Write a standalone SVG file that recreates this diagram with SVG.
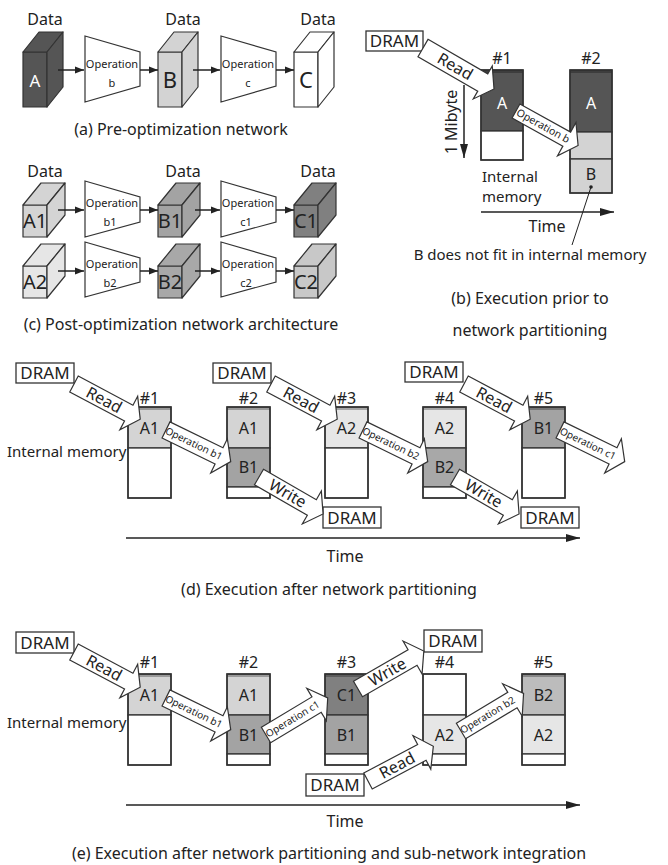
<svg xmlns="http://www.w3.org/2000/svg" width="668" height="865" viewBox="0 0 668 865">
<style>
.t{font-family:"Noto Sans","DejaVu Sans",sans-serif;fill:#222}
.m{text-anchor:middle}
.cube{stroke:#333;stroke-width:1.2;stroke-linejoin:round}
.trap{fill:#fff;stroke:#333;stroke-width:1.2}
.box{fill:#fff;stroke:#333;stroke-width:1.3}
.seg{stroke:#333;stroke-width:1.3}
.bar{fill:none;stroke:#333;stroke-width:1.5}
.band{fill:#000;opacity:.28}
.ln{stroke:#222;stroke-width:1.5;fill:none}
.ba{fill:#fff;stroke:#333;stroke-width:1.2;stroke-linejoin:miter}
.d1{fill:#555}.l1{fill:#d3d3d3}.w{fill:#fff}
.a1{fill:#d4d4d4}.b1{fill:#a3a3a3}.c1{fill:#808080}.a2{fill:#e6e6e6}.b2{fill:#a8a8a8}.c2{fill:#c8c8c8}.b2e{fill:#bcbcbc}
</style>
<defs>
<marker id="ah" viewBox="0 0 10 10" refX="10" refY="5" markerWidth="9" markerHeight="9" markerUnits="userSpaceOnUse" orient="auto"><path d="M0,1 L10,5 L0,9 Z" fill="#222"/></marker>
<marker id="th" viewBox="0 0 14 8" refX="14" refY="4" markerWidth="14" markerHeight="8" markerUnits="userSpaceOnUse" orient="auto"><path d="M0,0 L14,4 L0,8 Z" fill="#222"/></marker>
</defs>

<!-- (a) -->
<g id="labels-a">
<text x="45" y="25" class="t m" font-size="16">Data</text>
<text x="183" y="25" class="t m" font-size="16">Data</text>
<text x="318" y="25" class="t m" font-size="16">Data</text>
</g>
<g id="cubeA">
<rect x="23" y="52" width="24" height="55" class="cube d1"/>
<polygon points="23,52 39,32 63,32 47,52" class="cube d1"/>
<polygon points="47,52 63,32 63,87 47,107" class="cube d1"/>
<text x="35" y="87" class="t m" font-size="17" style="fill:#fff">A</text>
</g>
<g id="opB">
<polygon points="85,36 140,52 140,86 85,102" class="trap"/>
<text x="112" y="68" class="t m" font-size="11">Operation</text>
<text x="112" y="87" class="t m" font-size="11">b</text>
</g>
<g id="cubeB">
<rect x="158" y="52" width="24" height="55" class="cube l1"/>
<polygon points="158,52 174,32 198,32 182,52" class="cube l1"/>
<polygon points="182,52 198,32 198,87 182,107" class="cube l1"/>
<text x="170" y="88" class="t m" font-size="22">B</text>
</g>
<g id="opC">
<polygon points="221,36 276,52 276,86 221,102" class="trap"/>
<text x="248" y="68" class="t m" font-size="11">Operation</text>
<text x="248" y="87" class="t m" font-size="11">c</text>
</g>
<g id="cubeC">
<rect x="294" y="52" width="24" height="55" class="cube w"/>
<polygon points="294,52 310,32 334,32 318,52" class="cube w"/>
<polygon points="318,52 334,32 334,87 318,107" class="cube w"/>
<text x="306" y="88" class="t m" font-size="22">C</text>
</g>
<text x="181" y="135" class="t m" font-size="16">(a) Pre-optimization network</text>

<!-- (c) -->
<g id="labels-c">
<text x="45" y="177" class="t m" font-size="16">Data</text>
<text x="183" y="177" class="t m" font-size="16">Data</text>
<text x="318" y="177" class="t m" font-size="16">Data</text>
</g>
<g id="cubeA1">
<rect x="23" y="205" width="24" height="32" class="cube a1"/>
<polygon points="23,205 41,183 65,183 47,205" class="cube a1"/>
<polygon points="47,205 65,183 65,215 47,237" class="cube a1"/>
<text x="35" y="228" class="t m" font-size="20">A1</text>
</g>
<g id="opB1">
<polygon points="85,181 140,197 140,222 85,237" class="trap"/>
<text x="112" y="207" class="t m" font-size="11">Operation</text>
<text x="110" y="226" class="t m" font-size="11">b1</text>
</g>
<g id="cubeB1">
<rect x="158" y="205" width="24" height="32" class="cube b1"/>
<polygon points="158,205 176,183 200,183 182,205" class="cube b1"/>
<polygon points="182,205 200,183 200,215 182,237" class="cube b1"/>
<text x="170" y="228" class="t m" font-size="20">B1</text>
</g>
<g id="opC1">
<polygon points="221,181 276,197 276,222 221,237" class="trap"/>
<text x="248" y="207" class="t m" font-size="11">Operation</text>
<text x="246" y="226" class="t m" font-size="11">c1</text>
</g>
<g id="cubeC1">
<rect x="294" y="205" width="24" height="32" class="cube c1"/>
<polygon points="294,205 312,183 336,183 318,205" class="cube c1"/>
<polygon points="318,205 336,183 336,215 318,237" class="cube c1"/>
<text x="306" y="228" class="t m" font-size="20">C1</text>
</g>
<g id="cubeA2">
<rect x="23" y="266" width="24" height="32" class="cube a2"/>
<polygon points="23,266 41,244 65,244 47,266" class="cube a2"/>
<polygon points="47,266 65,244 65,276 47,298" class="cube a2"/>
<text x="35" y="289" class="t m" font-size="20">A2</text>
</g>
<g id="opB2">
<polygon points="85,242 140,258 140,282 85,297" class="trap"/>
<text x="112" y="268" class="t m" font-size="11">Operation</text>
<text x="110" y="287" class="t m" font-size="11">b2</text>
</g>
<g id="cubeB2">
<rect x="158" y="266" width="24" height="32" class="cube b2"/>
<polygon points="158,266 176,244 200,244 182,266" class="cube b2"/>
<polygon points="182,266 200,244 200,276 182,298" class="cube b2"/>
<text x="170" y="289" class="t m" font-size="20">B2</text>
</g>
<g id="opC2">
<polygon points="221,242 276,258 276,282 221,297" class="trap"/>
<text x="248" y="268" class="t m" font-size="11">Operation</text>
<text x="246" y="287" class="t m" font-size="11">c2</text>
</g>
<g id="cubeC2">
<rect x="294" y="266" width="24" height="32" class="cube c2"/>
<polygon points="294,266 312,244 336,244 318,266" class="cube c2"/>
<polygon points="318,266 336,244 336,276 318,298" class="cube c2"/>
<text x="306" y="289" class="t m" font-size="20">C2</text>
</g>
<text x="181" y="330" class="t m" font-size="16">(c) Post-optimization network architecture</text>

<!-- (b) -->
<g id="b-dram">
<rect x="366" y="31" width="57" height="20" class="box"/>
<text x="394.5" y="47" class="t m" font-size="17">DRAM</text>
</g>
<g id="b-mem1">
<rect x="481" y="70" width="42" height="61" class="seg d1"/>
<rect x="481" y="131" width="42" height="29" class="seg w"/>
<rect x="481" y="70" width="42" height="3" class="band"/>
<rect x="481" y="70" width="42" height="90" class="bar"/>
<text x="502" y="64" class="t m" font-size="16">#1</text>
<text x="502" y="109" class="t m" font-size="16" style="fill:#fff">A</text>
</g>
<g id="b-mem2">
<rect x="570" y="70" width="42" height="62" class="seg d1"/>
<rect x="570" y="132" width="42" height="27" class="seg l1"/>
<rect x="570" y="159" width="42" height="34" class="seg l1"/>
<rect x="570" y="70" width="42" height="3" class="band"/>
<rect x="570" y="70" width="42" height="123" class="bar"/>
<text x="591" y="64" class="t m" font-size="16">#2</text>
<text x="591" y="109" class="t m" font-size="16" style="fill:#fff">A</text>
<text x="591" y="180" class="t m" font-size="16">B</text>
</g>
<text transform="translate(457,122) rotate(-90)" class="t m" font-size="16">1 Mibyte</text>
<text x="482" y="182" class="t" font-size="15">Internal</text>
<text x="482" y="202" class="t" font-size="15">memory</text>
<text x="547" y="232" class="t m" font-size="16">Time</text>
<text x="530" y="260" class="t m" font-size="15">B does not fit in internal memory</text>
<text x="530" y="304" class="t m" font-size="16">(b) Execution prior to</text>
<text x="530" y="336" class="t m" font-size="16">network partitioning</text>

<!-- (d) -->
<g id="d-dram1"><rect x="16" y="363" width="58" height="20" class="box"/><text x="45" y="379" class="t m" font-size="17">DRAM</text></g>
<g id="d-dram2"><rect x="213" y="363" width="58" height="20" class="box"/><text x="242" y="379" class="t m" font-size="17">DRAM</text></g>
<g id="d-dram3"><rect x="405" y="362" width="58" height="20" class="box"/><text x="434" y="378" class="t m" font-size="17">DRAM</text></g>
<g id="d-dram4"><rect x="323" y="507" width="58" height="21" class="box"/><text x="352" y="523.5" class="t m" font-size="17">DRAM</text></g>
<g id="d-dram5"><rect x="521" y="507" width="58" height="21" class="box"/><text x="550" y="523.5" class="t m" font-size="17">DRAM</text></g>
<text x="7" y="457" class="t" font-size="15">Internal memory</text>
<g id="d-mem1">
<rect x="128" y="407" width="43" height="41" class="seg a1"/>
<rect x="128" y="448" width="43" height="50" class="seg w"/>
<rect x="128" y="407" width="43" height="3" class="band"/>
<rect x="128" y="407" width="43" height="91" class="bar"/>
<text x="149.5" y="404" class="t m" font-size="16">#1</text>
<text x="149.5" y="434" class="t m" font-size="16">A1</text>
</g>
<g id="d-mem2">
<rect x="227" y="407" width="43" height="41" class="seg a1"/>
<rect x="227" y="448" width="43" height="39" class="seg b1"/>
<rect x="227" y="487" width="43" height="11" class="seg w"/>
<rect x="227" y="407" width="43" height="3" class="band"/>
<rect x="227" y="407" width="43" height="91" class="bar"/>
<text x="248.5" y="404" class="t m" font-size="16">#2</text>
<text x="248.5" y="434" class="t m" font-size="16">A1</text>
<text x="248.5" y="473" class="t m" font-size="16">B1</text>
</g>
<g id="d-mem3">
<rect x="325" y="407" width="43" height="41" class="seg a2"/>
<rect x="325" y="448" width="43" height="50" class="seg w"/>
<rect x="325" y="407" width="43" height="3" class="band"/>
<rect x="325" y="407" width="43" height="91" class="bar"/>
<text x="346.5" y="404" class="t m" font-size="16">#3</text>
<text x="346.5" y="434" class="t m" font-size="16">A2</text>
</g>
<g id="d-mem4">
<rect x="423" y="407" width="43" height="41" class="seg a2"/>
<rect x="423" y="448" width="43" height="39" class="seg b2"/>
<rect x="423" y="487" width="43" height="11" class="seg w"/>
<rect x="423" y="407" width="43" height="3" class="band"/>
<rect x="423" y="407" width="43" height="91" class="bar"/>
<text x="444.5" y="404" class="t m" font-size="16">#4</text>
<text x="444.5" y="434" class="t m" font-size="16">A2</text>
<text x="444.5" y="473" class="t m" font-size="16">B2</text>
</g>
<g id="d-mem5">
<rect x="522" y="407" width="43" height="41" class="seg b1"/>
<rect x="522" y="448" width="43" height="50" class="seg w"/>
<rect x="522" y="407" width="43" height="3" class="band"/>
<rect x="522" y="407" width="43" height="91" class="bar"/>
<text x="543.5" y="404" class="t m" font-size="16">#5</text>
<text x="543.5" y="434" class="t m" font-size="16">B1</text>
</g>
<text x="345" y="562" class="t m" font-size="16">Time</text>
<text x="329" y="595" class="t m" font-size="16">(d) Execution after network partitioning</text>

<!-- (e) -->
<g id="e-dram1"><rect x="16" y="632" width="58" height="21" class="box"/><text x="45" y="648.5" class="t m" font-size="17">DRAM</text></g>
<g id="e-dram2"><rect x="424" y="630" width="58" height="22" class="box"/><text x="453" y="647" class="t m" font-size="17">DRAM</text></g>
<g id="e-dram3"><rect x="306" y="774" width="58" height="22" class="box"/><text x="335" y="791" class="t m" font-size="17">DRAM</text></g>
<text x="7" y="728" class="t" font-size="15">Internal memory</text>
<g id="e-mem1">
<rect x="128" y="674" width="43" height="41" class="seg a1"/>
<rect x="128" y="715" width="43" height="50" class="seg w"/>
<rect x="128" y="674" width="43" height="3" class="band"/>
<rect x="128" y="674" width="43" height="91" class="bar"/>
<text x="149.5" y="668" class="t m" font-size="16">#1</text>
<text x="149.5" y="701" class="t m" font-size="16">A1</text>
</g>
<g id="e-mem2">
<rect x="227" y="674" width="43" height="41" class="seg a1"/>
<rect x="227" y="715" width="43" height="39" class="seg b1"/>
<rect x="227" y="754" width="43" height="11" class="seg w"/>
<rect x="227" y="674" width="43" height="3" class="band"/>
<rect x="227" y="674" width="43" height="91" class="bar"/>
<text x="248.5" y="668" class="t m" font-size="16">#2</text>
<text x="248.5" y="701" class="t m" font-size="16">A1</text>
<text x="248.5" y="741" class="t m" font-size="16">B1</text>
</g>
<g id="e-mem3">
<rect x="325" y="674" width="43" height="41" class="seg c1"/>
<rect x="325" y="715" width="43" height="39" class="seg b1"/>
<rect x="325" y="754" width="43" height="11" class="seg w"/>
<rect x="325" y="674" width="43" height="3" class="band"/>
<rect x="325" y="674" width="43" height="91" class="bar"/>
<text x="346.5" y="668" class="t m" font-size="16">#3</text>
<text x="346.5" y="701" class="t m" font-size="16">C1</text>
<text x="346.5" y="741" class="t m" font-size="16">B1</text>
</g>
<g id="e-mem4">
<rect x="423" y="674" width="43" height="41" class="seg w"/>
<rect x="423" y="715" width="43" height="39" class="seg a2"/>
<rect x="423" y="754" width="43" height="11" class="seg w"/>
<rect x="423" y="674" width="43" height="91" class="bar"/>
<text x="444.5" y="668" class="t m" font-size="16">#4</text>
<text x="444.5" y="741" class="t m" font-size="16">A2</text>
</g>
<g id="e-mem5">
<rect x="522" y="674" width="43" height="41" class="seg b2e"/>
<rect x="522" y="715" width="43" height="39" class="seg a2"/>
<rect x="522" y="754" width="43" height="11" class="seg w"/>
<rect x="522" y="674" width="43" height="3" class="band"/>
<rect x="522" y="674" width="43" height="91" class="bar"/>
<text x="543.5" y="668" class="t m" font-size="16">#5</text>
<text x="543.5" y="701" class="t m" font-size="16">B2</text>
<text x="543.5" y="741" class="t m" font-size="16">A2</text>
</g>
<text x="345" y="827" class="t m" font-size="16">Time</text>
<text x="329" y="859" class="t m" font-size="16">(e) Execution after network partitioning and sub-network integration</text>

<!-- connectors -->
<g id="connectors">
<line x1="58" y1="70" x2="84" y2="70" class="ln" marker-end="url(#ah)"/>
<line x1="140" y1="70" x2="158" y2="70" class="ln" marker-end="url(#ah)"/>
<line x1="193" y1="70" x2="220" y2="70" class="ln" marker-end="url(#ah)"/>
<line x1="276" y1="70" x2="294" y2="70" class="ln" marker-end="url(#ah)"/>
<line x1="58" y1="210" x2="84" y2="210" class="ln" marker-end="url(#ah)"/>
<line x1="140" y1="210" x2="158" y2="210" class="ln" marker-end="url(#ah)"/>
<line x1="195" y1="210" x2="220" y2="210" class="ln" marker-end="url(#ah)"/>
<line x1="276" y1="210" x2="294" y2="210" class="ln" marker-end="url(#ah)"/>
<line x1="58" y1="271" x2="84" y2="271" class="ln" marker-end="url(#ah)"/>
<line x1="140" y1="271" x2="158" y2="271" class="ln" marker-end="url(#ah)"/>
<line x1="195" y1="271" x2="220" y2="271" class="ln" marker-end="url(#ah)"/>
<line x1="276" y1="271" x2="294" y2="271" class="ln" marker-end="url(#ah)"/>

<line x1="464" y1="85" x2="464" y2="158" class="ln" marker-end="url(#th)"/>
<line x1="481" y1="212" x2="614" y2="212" class="ln" marker-end="url(#th)"/>
<line x1="591" y1="187" x2="572" y2="245" stroke="#222" stroke-width="1"/>
<circle cx="591" cy="187" r="1.8" fill="#222"/>
<line x1="126" y1="538" x2="580" y2="538" class="ln" marker-end="url(#th)"/>
<line x1="126" y1="805" x2="580" y2="805" class="ln" marker-end="url(#th)"/>

<!-- (b) block arrows -->
<g transform="translate(423,48) rotate(30)"><path d="M0,-10 H69 V-19 L82,0 L69,19 V10 H0 Z" class="ba"/><text x="37" y="5.5" class="t m" font-size="16">Read</text></g>
<g transform="translate(516,111) rotate(29)"><path d="M0,-8 H58 V-19 L71,0 L58,19 V8 H0 Z" class="ba"/><text x="31" y="3.5" class="t m" font-size="10.5">Operation b</text></g>

<!-- (d) block arrows -->
<g transform="translate(74,384) rotate(28)"><path d="M0,-9 H62 V-19 L75,0 L62,19 V9 H0 Z" class="ba"/><text x="34" y="5.5" class="t m" font-size="16">Read</text></g>
<g transform="translate(166,430) rotate(26)"><path d="M0,-9 H59 V-19 L72,0 L59,19 V9 H0 Z" class="ba"/><text x="31" y="3.5" class="t m" font-size="10">Operation b1</text></g>
<g transform="translate(259,477) rotate(30)"><path d="M0,-9 H61 V-19 L74,0 L61,19 V9 H0 Z" class="ba"/><text x="33" y="5.5" class="t m" font-size="16">Write</text></g>
<g transform="translate(271,384) rotate(28)"><path d="M0,-9 H62 V-19 L75,0 L62,19 V9 H0 Z" class="ba"/><text x="34" y="5.5" class="t m" font-size="16">Read</text></g>
<g transform="translate(363,430) rotate(26)"><path d="M0,-9 H59 V-19 L72,0 L59,19 V9 H0 Z" class="ba"/><text x="31" y="3.5" class="t m" font-size="10">Operation b2</text></g>
<g transform="translate(455,477) rotate(30)"><path d="M0,-9 H61 V-19 L74,0 L61,19 V9 H0 Z" class="ba"/><text x="33" y="5.5" class="t m" font-size="16">Write</text></g>
<g transform="translate(464,384) rotate(28)"><path d="M0,-9 H62 V-19 L75,0 L62,19 V9 H0 Z" class="ba"/><text x="34" y="5.5" class="t m" font-size="16">Read</text></g>
<g transform="translate(560,430) rotate(26)"><path d="M0,-9 H59 V-19 L72,0 L59,19 V9 H0 Z" class="ba"/><text x="31" y="3.5" class="t m" font-size="10">Operation c1</text></g>

<!-- (e) block arrows -->
<g transform="translate(74,652) rotate(28)"><path d="M0,-9 H62 V-19 L75,0 L62,19 V9 H0 Z" class="ba"/><text x="34" y="5.5" class="t m" font-size="16">Read</text></g>
<g transform="translate(166,698) rotate(26)"><path d="M0,-9 H59 V-19 L72,0 L59,19 V9 H0 Z" class="ba"/><text x="31" y="3.5" class="t m" font-size="10">Operation b1</text></g>
<g transform="translate(266,735) rotate(-31)"><path d="M0,-9 H59 V-19 L72,0 L59,19 V9 H0 Z" class="ba"/><text x="31" y="3.5" class="t m" font-size="10">Operation c1</text></g>
<g transform="translate(358,689) rotate(-30)"><path d="M0,-9 H63 V-19 L76,0 L63,19 V9 H0 Z" class="ba"/><text x="34" y="5.5" class="t m" font-size="16">Write</text></g>
<g transform="translate(368,781) rotate(-28)"><path d="M0,-9 H61 V-19 L74,0 L61,19 V9 H0 Z" class="ba"/><text x="33" y="5.5" class="t m" font-size="16">Read</text></g>
<g transform="translate(461,731) rotate(-31)"><path d="M0,-9 H60 V-19 L73,0 L60,19 V9 H0 Z" class="ba"/><text x="31" y="3.5" class="t m" font-size="10">Operation b2</text></g>
</g>
</svg>
